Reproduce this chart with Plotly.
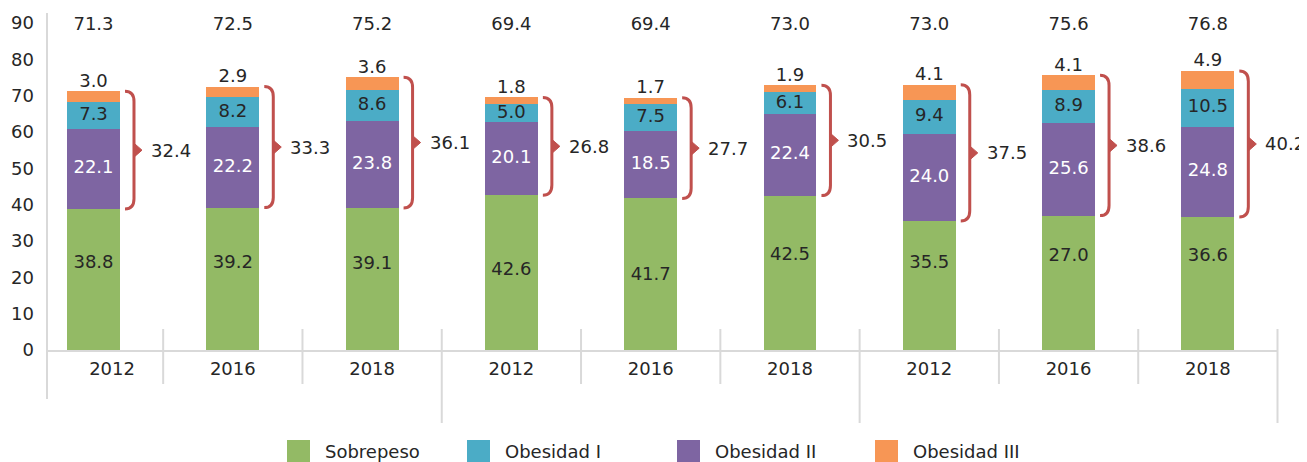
import plotly.graph_objects as go

# ---------------- data ----------------
years = ["2012", "2016", "2018", "2012", "2016", "2018", "2012", "2016", "2018"]
sobrepeso = [38.8, 39.2, 39.1, 42.6, 41.7, 42.5, 35.5, 37.0, 36.6]
sobrepeso_labels = ["38.8", "39.2", "39.1", "42.6", "41.7", "42.5", "35.5", "27.0", "36.6"]
obesidad_1 = [7.3, 8.2, 8.6, 5.0, 7.5, 6.1, 9.4, 8.9, 10.5]
obesidad_2 = [22.1, 22.2, 23.8, 20.1, 18.5, 22.4, 24.0, 25.6, 24.8]
obesidad_3 = [3.0, 2.9, 3.6, 1.8, 1.7, 1.9, 4.1, 4.1, 4.9]
totales = [71.3, 72.5, 75.2, 69.4, 69.4, 73.0, 73.0, 75.6, 76.8]
obesidad_total = [32.4, 33.3, 36.1, 26.8, 27.7, 30.5, 37.5, 38.6, 40.2]
series_names = ["Sobrepeso", "Obesidad I", "Obesidad II", "Obesidad III"]

# ---------------- style ----------------
C_GREEN = "#93BA65"
C_TEAL = "#4BACC6"
C_PURPLE = "#7E65A2"
C_ORANGE = "#F79655"
C_RED = "#C0504D"
C_GRID = "#D9D9D9"
C_TEXT = "#262626"
FONT = "DejaVu Sans"
FS = 18

OFF = 8  # page body margin of the html page
W, H = 1307 - OFF, 462 - OFF
PLOT_L, PLOT_R, PLOT_T, PLOT_B = 47, 1278, 23, 350  # in page pixels
ML = PLOT_L - OFF
MR = (1307 - OFF) - (PLOT_R - OFF)
MT = PLOT_T - OFF
MB = H - (PLOT_B - OFF)
PW, PH = W - ML - MR, H - MT - MB
XMIN, XMAX = -0.334, 8.5035
YMAX = 90
BAR_W = 0.38
# manual label heights of the Sobrepeso labels (as placed in the original)
LABEL_Y_SOBREPESO = [23.9, 23.9, 23.4, 22.0, 20.6, 26.1, 23.9, 25.6, 25.6]

n = len(years)
xs = list(range(n))


def paper_x_from_px(px):
    return (px - PLOT_L) / PW


def paper_y_from_py(py):
    return (PLOT_B - py) / PH


def paper_x_from_data(x):
    return (x - XMIN) / (XMAX - XMIN)


fig = go.Figure()

# stacking order as in the original: Sobrepeso, Obesidad II, Obesidad I, Obesidad III
stack = [("Sobrepeso", sobrepeso, C_GREEN), ("Obesidad II", obesidad_2, C_PURPLE),
         ("Obesidad I", obesidad_1, C_TEAL), ("Obesidad III", obesidad_3, C_ORANGE)]
for name, vals, col in stack:
    fig.add_trace(go.Bar(x=xs, y=vals, name=name, marker=dict(color=col, line=dict(width=0)),
                         width=BAR_W, showlegend=False, hoverinfo="skip"))

c1 = list(sobrepeso)
c2 = [a + b for a, b in zip(c1, obesidad_2)]
c3 = [a + b for a, b in zip(c2, obesidad_1)]
c4 = [a + b for a, b in zip(c3, obesidad_3)]

fig.add_trace(go.Scatter(x=xs, y=LABEL_Y_SOBREPESO, mode="text", text=sobrepeso_labels,
                         textfont=dict(family=FONT, size=FS, color=C_TEXT),
                         showlegend=False, hoverinfo="skip", cliponaxis=False))
fig.add_trace(go.Scatter(x=xs, y=[(a + b) / 2 for a, b in zip(c1, c2)], mode="text",
                         text=[f"{v:.1f}" for v in obesidad_2],
                         textfont=dict(family=FONT, size=FS, color="white"),
                         showlegend=False, hoverinfo="skip", cliponaxis=False))
fig.add_trace(go.Scatter(x=xs, y=[(a + b) / 2 for a, b in zip(c2, c3)], mode="text",
                         text=[f"{v:.1f}" for v in obesidad_1],
                         textfont=dict(family=FONT, size=FS, color=C_TEXT),
                         showlegend=False, hoverinfo="skip", cliponaxis=False))
fig.add_trace(go.Scatter(x=xs, y=c4, mode="text", textposition="top center",
                         text=[f"{v:.1f}" for v in obesidad_3],
                         textfont=dict(family=FONT, size=FS, color=C_TEXT),
                         showlegend=False, hoverinfo="skip", cliponaxis=False))
fig.add_trace(go.Scatter(x=xs, y=[89.4] * n, mode="text",
                         text=[f"{v:.1f}" for v in totales],
                         textfont=dict(family=FONT, size=FS, color=C_TEXT),
                         showlegend=False, hoverinfo="skip", cliponaxis=False))

shapes = []
annotations = []
px_per_x = PW / (XMAX - XMIN)
r_y = 2.8
tri_h = 7 * YMAX / PH
for i in xs:
    x0 = i + BAR_W / 2 + 5 / px_per_x
    x1 = i + BAR_W / 2 + 14 / px_per_x
    tip = x1 + 8 / px_per_x
    top = c4[i]
    bot = c1[i]
    mid = (top + bot) / 2
    path = (f"M {x0},{top} Q {x1},{top} {x1},{top - r_y} "
            f"L {x1},{bot + r_y} Q {x1},{bot} {x0},{bot}")
    shapes.append(dict(type="path", xref="x", yref="y", path=path,
                       line=dict(color=C_RED, width=3)))
    tri = f"M {x1},{mid + tri_h} L {tip},{mid} L {x1},{mid - tri_h} Z"
    shapes.append(dict(type="path", xref="x", yref="y", path=tri,
                       line=dict(color=C_RED, width=1), fillcolor=C_RED))
    annotations.append(dict(x=i + BAR_W / 2 + 29 / px_per_x, y=mid, xref="x", yref="y",
                            text=f"{obesidad_total[i]:.1f}", showarrow=False,
                            xanchor="left", yanchor="middle",
                            font=dict(family=FONT, size=FS, color=C_TEXT)))

# axis lines and separators
shapes.append(dict(type="line", xref="paper", yref="paper", x0=0, x1=0,
                   y0=paper_y_from_py(13), y1=paper_y_from_py(399),
                   line=dict(color=C_GRID, width=2)))
shapes.append(dict(type="line", xref="paper", yref="paper", x0=0, x1=1,
                   y0=paper_y_from_py(351), y1=paper_y_from_py(351),
                   line=dict(color=C_GRID, width=2)))
for i in xs:
    xb = paper_x_from_data(i + 0.5)
    long_sep = (i % 3 == 2)
    shapes.append(dict(type="line", xref="paper", yref="paper", x0=xb, x1=xb,
                       y0=paper_y_from_py(329), y1=paper_y_from_py(423 if long_sep else 384),
                       line=dict(color=C_GRID, width=2)))

# manual legend
legend_order = [("Sobrepeso", C_GREEN), ("Obesidad I", C_TEAL),
                ("Obesidad II", C_PURPLE), ("Obesidad III", C_ORANGE)]
legend_sq_px = [287, 467, 677, 875]
for (name, col), sx in zip(legend_order, legend_sq_px):
    shapes.append(dict(type="rect", xref="paper", yref="paper",
                       x0=paper_x_from_px(sx), x1=paper_x_from_px(sx + 23),
                       y0=paper_y_from_py(440), y1=paper_y_from_py(463),
                       line=dict(width=0), fillcolor=col))
    annotations.append(dict(x=paper_x_from_px(sx + 36), y=paper_y_from_py(452),
                            xref="paper", yref="paper", text=name, showarrow=False,
                            xanchor="left", yanchor="middle",
                            font=dict(family=FONT, size=FS, color=C_TEXT)))

tickvals = [(max(i - 0.5, XMIN) + min(i + 0.5, XMAX)) / 2 for i in xs]
tickvals[0] += 0.05

fig.update_layout(
    width=W, height=H, barmode="stack", bargap=0,
    margin=dict(l=ML, r=MR, t=MT, b=MB, autoexpand=False),
    paper_bgcolor="white", plot_bgcolor="white",
    font=dict(family=FONT, size=FS, color=C_TEXT),
    shapes=shapes, annotations=annotations, showlegend=False,
    xaxis=dict(range=[XMIN, XMAX], tickvals=tickvals, ticktext=years,
               showgrid=False, zeroline=False, showline=False, ticks="",
               ticklabelstandoff=6, tickfont=dict(family=FONT, size=FS, color=C_TEXT)),
    yaxis=dict(range=[0, YMAX], dtick=10, tick0=0, showgrid=False, zeroline=False,
               showline=False, ticks="", ticklabelstandoff=12,
               tickfont=dict(family=FONT, size=FS, color=C_TEXT)),
)

fig.write_html("out.html")
